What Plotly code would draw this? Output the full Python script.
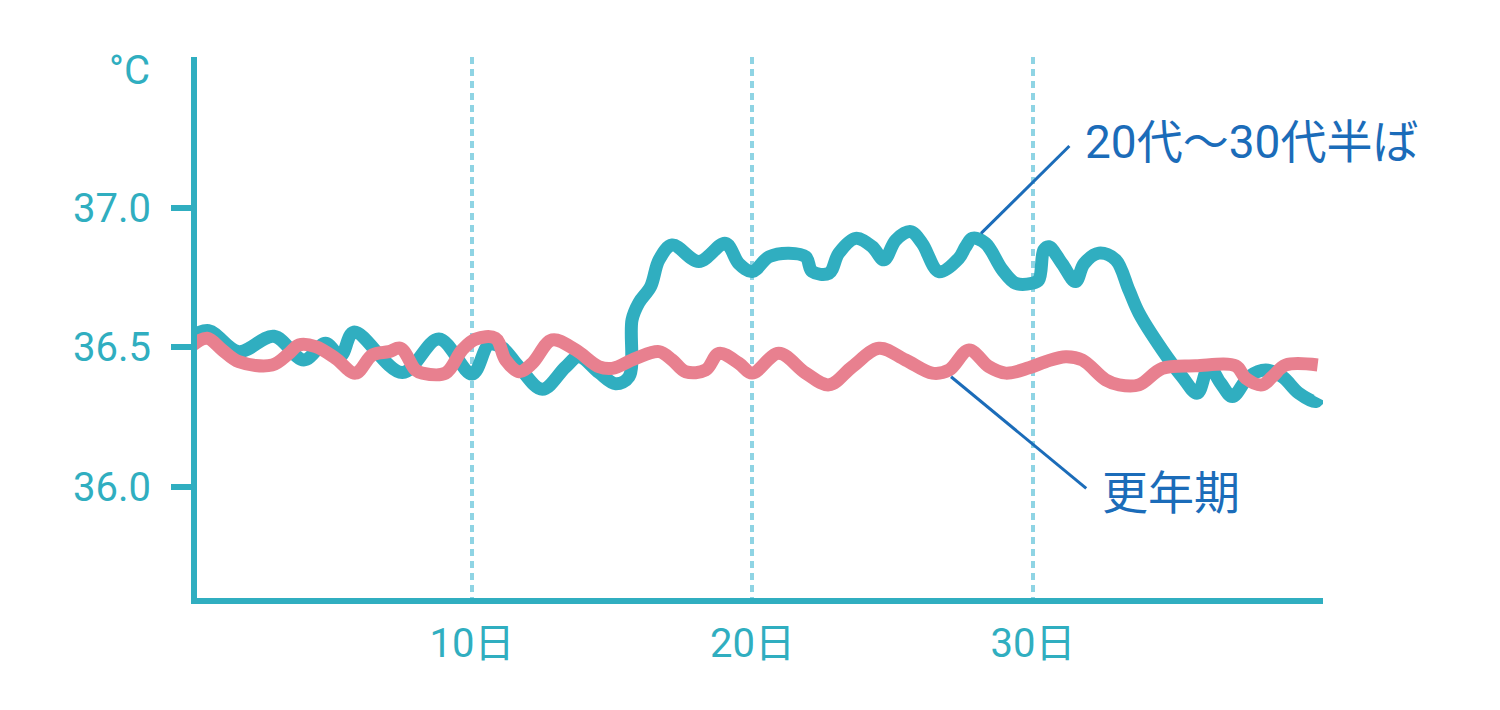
import plotly.graph_objects as go

# ---- data ----
teal_x = [0.0, 0.62, 1.69, 2.94, 4.01, 4.78, 5.32, 5.79, 7.52, 8.82, 10.01, 10.61, 11.07, 11.68,
          12.51, 13.34, 13.81, 14.53, 15.12, 15.60, 15.71, 15.95, 16.37, 16.67, 17.14, 18.09,
          19.04, 19.52, 19.99, 20.59, 21.30, 21.90, 22.13, 22.73, 23.08, 23.68, 24.27, 24.69,
          25.11, 25.64, 26.05, 26.65, 27.36, 27.60, 27.84, 28.31, 28.91, 29.38, 29.97, 30.21,
          30.39, 30.57, 31.04, 31.52, 31.82, 32.35, 32.95, 33.42, 33.78, 34.61, 35.32, 35.86,
          36.27, 36.69, 37.11, 37.70, 38.30, 38.89, 39.48, 40.08, 40.2]
teal_y = [36.54, 36.56, 36.485, 36.54, 36.455, 36.515, 36.47, 36.555, 36.41, 36.53, 36.405,
          36.51, 36.50, 36.43, 36.35, 36.43, 36.467, 36.41, 36.37, 36.395, 36.60, 36.66, 36.718,
          36.814, 36.867, 36.808, 36.873, 36.80, 36.772, 36.825, 36.838, 36.825, 36.772, 36.766,
          36.838, 36.891, 36.861, 36.814, 36.885, 36.915, 36.873, 36.772, 36.82, 36.861, 36.891,
          36.873, 36.778, 36.73, 36.73, 36.742, 36.85, 36.861, 36.80, 36.736, 36.80, 36.838,
          36.814, 36.706, 36.623, 36.491, 36.395, 36.336, 36.431, 36.372, 36.324, 36.395,
          36.419, 36.395, 36.336, 36.306, 36.318]

pink_x = [0.0, 0.56, 1.10, 1.69, 2.88, 3.48, 3.83, 4.43, 5.14, 5.85, 6.45, 7.04, 7.46, 7.99,
          8.23, 9.06, 9.65, 10.13, 10.84, 11.20, 11.68, 12.15, 12.86, 13.70, 14.53, 15.00,
          15.84, 16.67, 17.14, 17.62, 18.33, 18.81, 19.52, 19.99, 20.94, 21.90, 22.73, 23.56,
          24.51, 25.46, 26.41, 27.01, 27.72, 28.43, 29.03, 29.86, 30.45, 31.17, 31.76, 32.59,
          33.07, 33.78, 34.61, 35.80, 37.23, 37.58, 38.17, 38.53, 39.01, 40.15]
pink_y = [36.505, 36.533, 36.491, 36.449, 36.437, 36.479, 36.509, 36.503, 36.461, 36.408,
          36.473, 36.485, 36.497, 36.419, 36.408, 36.408, 36.491, 36.53, 36.533, 36.455,
          36.413, 36.443, 36.527, 36.491, 36.431, 36.425, 36.461, 36.485, 36.455, 36.413,
          36.419, 36.479, 36.443, 36.408, 36.479, 36.408, 36.366, 36.431, 36.497, 36.455,
          36.408, 36.419, 36.491, 36.431, 36.408, 36.427, 36.449, 36.467, 36.455, 36.384,
          36.366, 36.366, 36.425, 36.434, 36.434, 36.39, 36.366, 36.395, 36.437, 36.437]

x_tickvals = [10, 20, 30]
x_ticktext = ["10日", "20日", "30日"]
y_tickvals = [36.0, 36.5, 37.0]
y_ticktext = ["36.0", "36.5", "37.0"]

series_names = ["20代〜30代半ば", "更年期"]
unit_label = "°C"

# ---- style ----
TEAL = "#30aec0"
PINK = "#e8808f"
GRID = "#8fd4e4"
BLUE = "#1b6cb9"
FONT = "Roboto, 'Noto Sans CJK JP', sans-serif"
CJK = "'Noto Sans CJK JP', Roboto, sans-serif"

fig = go.Figure()
fig.add_trace(go.Scatter(x=teal_x, y=teal_y, mode="lines", name=series_names[0],
                         line=dict(color=TEAL, width=13, shape="spline", smoothing=1.0)))
fig.add_trace(go.Scatter(x=pink_x, y=pink_y, mode="lines", name=series_names[1],
                         line=dict(color=PINK, width=13, shape="spline", smoothing=1.0)))

fig.update_layout(
    width=1500, height=710,
    margin=dict(l=189, r=185, t=49, b=120),
    paper_bgcolor="white", plot_bgcolor="white",
    showlegend=False,
    font=dict(family=FONT, color=TEAL, size=40),
)
fig.update_xaxes(
    range=[0.2, 40.34],
    tickvals=x_tickvals, ticktext=x_ticktext,
    showline=True, linecolor=TEAL, linewidth=6,
    ticks="", showgrid=True, gridcolor=GRID, gridwidth=4, griddash="7px,5px",
    zeroline=False, tickfont=dict(size=40, color=TEAL, family=FONT),
    ticklabelstandoff=5,
)
fig.update_yaxes(
    range=[35.602, 37.541],
    tickvals=y_tickvals, ticktext=y_ticktext,
    showline=True, linecolor=TEAL, linewidth=6,
    ticks="outside", ticklen=20, tickwidth=6, tickcolor=TEAL,
    showgrid=False, zeroline=False,
    tickfont=dict(size=40, color=TEAL, family=FONT),
    ticklabelstandoff=12,
)

# unit label
fig.add_annotation(text=unit_label, xref="paper", yref="y", x=0, y=37.491,
                   xanchor="right", yanchor="middle", xshift=-45, showarrow=False,
                   font=dict(size=40, color=TEAL, family=FONT))

# series labels with leader lines
fig.add_shape(type="line", x0=28.15, y0=36.909, x1=31.30, y1=37.222,
              line=dict(color=BLUE, width=3))
fig.add_annotation(text=series_names[0], x=31.8, y=37.237, xanchor="left", yanchor="middle",
                   showarrow=False, font=dict(size=46, color=BLUE, family=FONT))
fig.add_shape(type="line", x0=27.08, y0=36.395, x1=31.90, y1=35.995,
              line=dict(color=BLUE, width=3))
fig.add_annotation(text=series_names[1], x=32.4, y=35.993, xanchor="left", yanchor="middle",
                   showarrow=False, font=dict(size=46, color=BLUE, family=CJK))

fig.write_html("out.html")
